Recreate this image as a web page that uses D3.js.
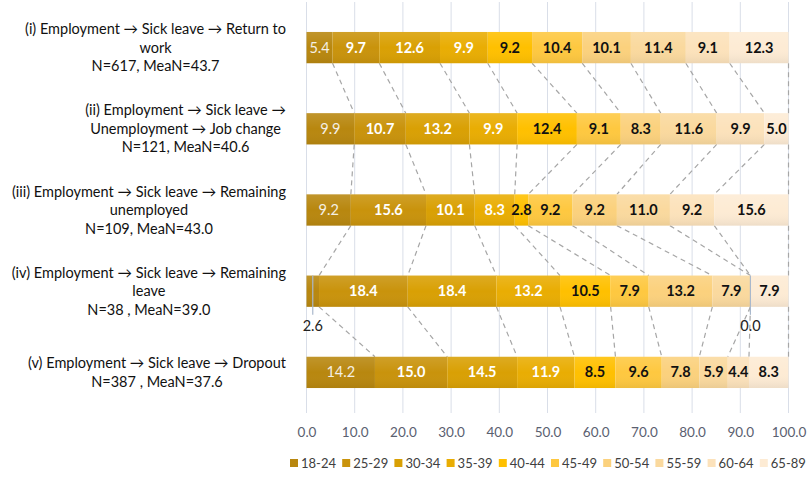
<!DOCTYPE html>
<html><head><meta charset="utf-8">
<script src="https://cdn.jsdelivr.net/npm/d3@7"></script>
<style>body{margin:0;background:#fff;} svg{display:block;font-family:Lato,"Open Sans",sans-serif;}</style>
</head><body><svg id="c" width="807" height="480"></svg>
<script>
const pathways = ["i","ii","iii","iv","v"];
const pathwayLabels = [
  ["(i) Employment \u2192 Sick leave \u2192 Return to","work","N=617, MeaN=43.7"],
  ["(ii) Employment \u2192 Sick leave \u2192","Unemployment \u2192 Job change","N=121, MeaN=40.6"],
  ["(iii) Employment \u2192 Sick leave \u2192 Remaining","unemployed","N=109, MeaN=43.0"],
  ["(iv) Employment \u2192 Sick leave \u2192 Remaining","leave","N=38 , MeaN=39.0"],
  ["(v) Employment \u2192 Sick leave \u2192 Dropout","N=387 , MeaN=37.6"]
];
const ageGroups = ["18-24","25-29","30-34","35-39","40-44","45-49","50-54","55-59","60-64","65-89"];
const valuesI   = [5.4, 9.7, 12.6, 9.9, 9.2, 10.4, 10.1, 11.4, 9.1, 12.3];
const valuesII  = [9.9, 10.7, 13.2, 9.9, 12.4, 9.1, 8.3, 11.6, 9.9, 5.0];
const valuesIII = [9.2, 15.6, 10.1, 8.3, 2.8, 9.2, 9.2, 11.0, 9.2, 15.6];
const valuesIV  = [2.6, 18.4, 18.4, 13.2, 10.5, 7.9, 13.2, 7.9, 0.0, 7.9];
const valuesV   = [14.2, 15.0, 14.5, 11.9, 8.5, 9.6, 7.8, 5.9, 4.4, 8.3];
const xTicks = [0,10,20,30,40,50,60,70,80,90,100];

const allValues = [valuesI, valuesII, valuesIII, valuesIV, valuesV];
const colors = ["#b8870f","#c9930c","#d9a004","#e9ad03","#ffc000","#fec840","#fbd17d","#fad99e","#fce2bb","#fdebd4"];
const textColors = ["#f4efe4","#ffffff","#ffffff","#ffffff","#111","#111","#111","#111","#111","#111"];

const svg = d3.select("#c");
const x = d3.scaleLinear().domain([0,100]).range([306.5, 788.5]);
const y = d3.scaleBand().domain(pathways).range([7, 413]).paddingInner(0.615).paddingOuter(0.3075);
const bw = y.bandwidth();

// gradient overlay
const defs = svg.append("defs");
const g = defs.append("linearGradient").attr("id","shade").attr("x1",0).attr("y1",0).attr("x2",0).attr("y2",1);
g.append("stop").attr("offset","0").attr("stop-color","#fff").attr("stop-opacity",0.12);
g.append("stop").attr("offset","0.5").attr("stop-color","#fff").attr("stop-opacity",0);
g.append("stop").attr("offset","1").attr("stop-color","#000").attr("stop-opacity",0.06);

// gridlines
svg.append("g").selectAll("line").data(xTicks).join("line")
  .attr("x1", d=>x(d)).attr("x2", d=>x(d)).attr("y1", 2).attr("y2", 413)
  .attr("stroke", "#d9dee8").attr("stroke-width", 1);

// axis labels
const ax = svg.append("g").attr("transform","translate(0,413)")
  .call(d3.axisBottom(x).tickValues(xTicks).tickFormat(d3.format(".1f")).tickSize(0).tickPadding(14));
ax.select(".domain").remove();
ax.selectAll("text").attr("font-size", 13.5).attr("fill", "#5a6070").attr("font-family","Lato,sans-serif");

const cums = allValues.map(v => [0, ...d3.cumsum(v)]);

// connectors
const conn = [];
for (let i = 0; i < allValues.length - 1; i++) {
  for (let k = 1; k <= ageGroups.length; k++) {
    conn.push({x1: cums[i][k], y1: y(pathways[i]) + bw, x2: cums[i+1][k], y2: y(pathways[i+1])});
  }
}
svg.append("g").selectAll("line").data(conn).join("line")
  .attr("x1", d=>x(Math.min(d.x1,100))).attr("x2", d=>x(Math.min(d.x2,100)))
  .attr("y1", d=>d.y1).attr("y2", d=>d.y2)
  .attr("stroke", "#a6a6a6").attr("stroke-width", 1.2).attr("stroke-dasharray", "5,4");

// bars
allValues.forEach((vals, i) => {
  const gy = y(pathways[i]);
  const grp = svg.append("g");
  const segs = vals.map((v, k) => ({v, k, x0: cums[i][k], x1: cums[i][k+1]}));
  grp.selectAll("rect").data(segs).join("rect")
    .attr("x", d=>x(d.x0)).attr("width", d=>Math.max(0, x(Math.min(d.x1,100)) - x(d.x0)))
    .attr("y", gy).attr("height", bw).attr("fill", d=>colors[d.k]);
  grp.append("rect").attr("x", x(0)).attr("width", x(Math.min(cums[i][10],100)) - x(0))
    .attr("y", gy).attr("height", bw).attr("fill", "url(#shade)");
  grp.selectAll("text").data(segs.filter(d => !(i === 3 && (d.k === 0 || d.k === 8)))).join("text")
    .attr("x", d=>x((d.x0 + Math.min(d.x1,100))/2)).attr("y", gy + bw/2 + 5)
    .attr("text-anchor","middle").attr("font-size", 14.5)
    .attr("font-weight", d=> d.k === 0 ? 400 : 700)
    .attr("fill", d=>textColors[d.k]).text(d=>d3.format(".1f")(d.v));
});

// callouts for bar iv
const ivY = y("iv");
[[0,"2.6"],[8,"0.0"]].forEach(([k, t]) => {
  const cx = x((cums[3][k] + cums[3][k+1]) / 2);
  svg.append("line").attr("x1", cx).attr("x2", cx).attr("y1", ivY).attr("y2", ivY + bw + 8)
    .attr("stroke", "#a9b8cc").attr("stroke-width", 1.2);
  svg.append("text").attr("x", cx).attr("y", ivY + bw + 24).attr("text-anchor","middle")
    .attr("font-size", 14.5).attr("fill", "#222").text(d3.format(".1f")(allValues[3][k]));
});

// category labels
const labelRight = 286;
pathwayLabels.forEach((lines, i) => {
  const cy = y(pathways[i]) + bw/2;
  const lh = 18.5;
  const t = svg.append("text").attr("font-size", 14.5).attr("fill", "#111").attr("text-anchor","middle");
  lines.forEach((ln, j) => {
    t.append("tspan").attr("y", cy + (j - (lines.length-1)/2) * lh + 5).text(ln);
  });
  let maxW = 0;
  t.selectAll("tspan").each(function(){ maxW = Math.max(maxW, this.getComputedTextLength()); });
  t.selectAll("tspan").attr("x", labelRight - maxW/2);
});

// legend
const lg = svg.append("g").attr("transform","translate(0,463)");
const li = lg.selectAll("g").data(ageGroups).join("g")
  .attr("transform", (d,k)=>`translate(${290 + k*52.2},0)`);
li.append("rect").attr("x",0).attr("y",-4).attr("width",8).attr("height",8).attr("fill",(d,k)=>colors[k]);
li.append("text").attr("x",11).attr("y",4.5).attr("font-size",13).attr("fill","#404040").text(d=>d);
</script></body></html>
